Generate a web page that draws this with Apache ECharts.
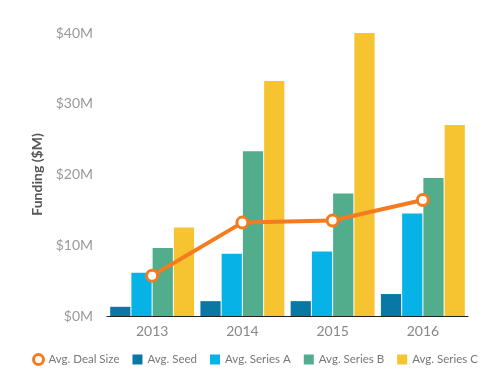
<!DOCTYPE html>
<html>
<head>
<meta charset="UTF-8">
<title>Funding</title>
<script type="text/javascript" src="https://cdn.jsdelivr.net/npm/echarts@6/dist/echarts.min.js"></script>
<style>
html,body{margin:0;padding:0;background:#fff;}
</style>
</head>
<body>
	<div id="div1" style="width:497px;height:377px"></div>
	<script type="text/javascript">
	var years = ['2013', '2014', '2015', '2016'];
	var dealSize = [5.7, 13.2, 13.5, 16.4];
	var seed = [1.3, 2.1, 2.1, 3.1];
	var seriesA = [6.1, 8.8, 9.1, 14.5];
	var seriesB = [9.6, 23.3, 17.3, 19.5];
	var seriesC = [12.5, 33.2, 40.0, 27.0];

	var myChart = echarts.init(document.getElementById('div1'));
	var font = 'Lato';

	function bar(name, data, color) {
		return {
			name: name,
			type: 'bar',
			data: data,
			barGap: '5%',
			barCategoryGap: '7%',
			itemStyle: { color: color },
			emphasis: { disabled: true }
		};
	}

	var option = {
		animation: false,
		textStyle: { fontFamily: font },
		grid: { left: 107, right: 29, top: 33, bottom: 61 },
		legend: {
			top: 348,
			left: 27,
			width: 480,
			itemWidth: 10,
			itemHeight: 10,
			itemGap: 13,
			textStyle: { color: '#777', fontSize: 11.5, fontFamily: font },
			data: [
				{ name: 'Avg. Deal Size', icon: 'circle', itemStyle: { color: '#fff', borderColor: '#F47B20', borderWidth: 3 } },
				{ name: 'Avg. Seed', icon: 'rect' },
				{ name: 'Avg. Series A', icon: 'rect' },
				{ name: 'Avg. Series B', icon: 'rect' },
				{ name: 'Avg. Series C', icon: 'rect' }
			]
		},
		xAxis: {
			type: 'category',
			data: years,
			axisLine: { lineStyle: { color: '#222', width: 1 } },
			axisTick: { show: false },
			axisLabel: { color: '#888', fontSize: 14, margin: 8 }
		},
		yAxis: {
			type: 'value',
			min: 0,
			max: 40,
			interval: 10,
			name: 'Funding ($M)',
			nameLocation: 'middle',
			nameGap: 63,
			nameTextStyle: { color: '#555', fontSize: 14, fontWeight: 'bold', fontFamily: font },
			axisLine: { show: false },
			axisTick: { show: false },
			splitLine: { show: false },
			axisLabel: {
				color: '#999',
				fontSize: 14,
				margin: 14,
				formatter: function (v) { return '$' + v + 'M'; }
			}
		},
		series: [
			{
				name: 'Avg. Deal Size',
				type: 'line',
				data: dealSize,
				z: 5,
				symbol: 'circle',
				symbolSize: 11,
				lineStyle: { color: '#F47B20', width: 4 },
				itemStyle: { color: '#fff', borderColor: '#F47B20', borderWidth: 3 }
			},
			bar('Avg. Seed', seed, '#0A78A5'),
			bar('Avg. Series A', seriesA, '#07B3E6'),
			bar('Avg. Series B', seriesB, '#52AD8C'),
			bar('Avg. Series C', seriesC, '#F6C431')
		]
	};
	myChart.setOption(option);
	</script>
</body>
</html>
